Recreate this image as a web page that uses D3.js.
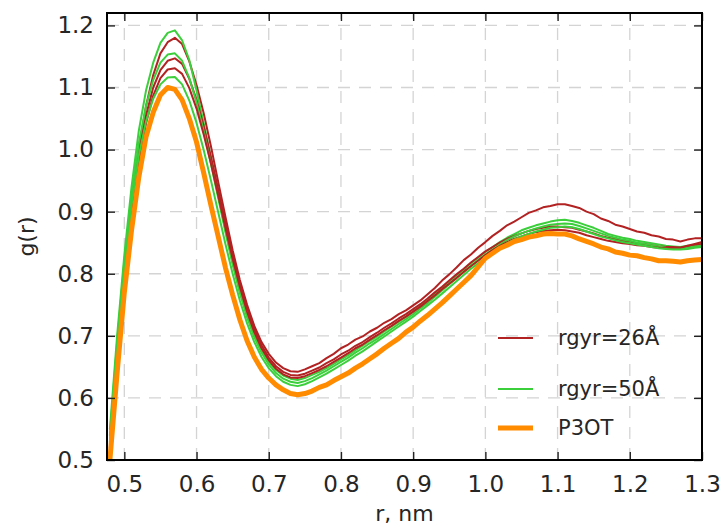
<!DOCTYPE html>
<html><head><meta charset="utf-8">
<script src="https://cdn.jsdelivr.net/npm/d3@7"></script>
<style>
html,body{margin:0;padding:0;background:#fff;}
svg{display:block;font-family:"DejaVu Sans",sans-serif;}
</style></head><body>
<svg id="chart" width="724" height="526"></svg>
<script>
// Pair distance r (nm)
const r = [0.48,0.49,0.50,0.51,0.52,0.53,0.54,0.55,0.56,0.57,0.58,0.59,0.60,0.61,0.62,0.63,0.64,0.65,0.66,0.67,0.68,0.69,
  0.70,0.71,0.72,0.73,0.74,0.75,0.76,0.77,0.78,0.79,0.80,0.81,0.82,0.83,0.84,0.85,0.86,0.87,0.88,0.89,
  0.90,0.91,0.92,0.93,0.94,0.95,0.96,0.97,0.98,0.99,1.00,1.01,1.02,1.03,1.04,1.05,1.06,1.07,1.08,1.09,
  1.10,1.11,1.12,1.13,1.14,1.15,1.16,1.17,1.18,1.19,1.20,1.21,1.22,1.23,1.24,1.25,1.26,1.27,1.28,1.29,1.30];

// g(r), rgyr = 26 Å runs
const rgyr26a = [0.52,0.67,0.80,0.91,1.00,1.07,1.12,1.155,1.173,1.18,1.17,1.142,1.104,1.058,1.005,0.948,0.892,0.838,0.79,0.75,0.716,0.69,
  0.671,0.657,0.648,0.643,0.642,0.646,0.651,0.656,0.664,0.671,0.680,0.686,0.694,0.699,0.707,0.713,0.721,0.727,0.735,0.741,
  0.749,0.757,0.767,0.777,0.789,0.799,0.81,0.822,0.831,0.842,0.851,0.861,0.869,0.878,0.884,0.891,0.898,0.902,0.907,0.909,
  0.912,0.912,0.909,0.906,0.900,0.896,0.889,0.885,0.879,0.876,0.872,0.868,0.866,0.862,0.860,0.856,0.855,0.852,0.855,0.857,0.857];
const rgyr26b = [0.51,0.66,0.79,0.90,0.99,1.055,1.10,1.128,1.143,1.147,1.138,1.114,1.08,1.037,0.988,0.936,0.882,0.831,0.785,0.745,0.711,0.685,
  0.665,0.651,0.642,0.637,0.636,0.639,0.644,0.649,0.656,0.662,0.670,0.676,0.684,0.690,0.698,0.705,0.713,0.720,0.728,0.735,
  0.743,0.751,0.760,0.770,0.779,0.789,0.799,0.808,0.818,0.827,0.836,0.843,0.850,0.856,0.861,0.865,0.869,0.872,0.874,0.876,
  0.876,0.875,0.874,0.871,0.868,0.865,0.861,0.858,0.856,0.853,0.852,0.849,0.848,0.846,0.844,0.843,0.843,0.842,0.844,0.846,0.848];
const rgyr26c = [0.51,0.655,0.785,0.89,0.978,1.042,1.087,1.115,1.129,1.131,1.122,1.099,1.066,1.024,0.977,0.926,0.874,0.824,0.779,0.739,0.706,0.680,
  0.661,0.647,0.638,0.633,0.632,0.635,0.640,0.645,0.651,0.658,0.665,0.672,0.680,0.686,0.694,0.701,0.709,0.716,0.724,0.731,
  0.739,0.747,0.756,0.765,0.775,0.784,0.793,0.803,0.812,0.821,0.830,0.838,0.845,0.851,0.856,0.860,0.864,0.867,0.869,0.870,
  0.871,0.870,0.868,0.866,0.862,0.859,0.856,0.853,0.851,0.849,0.848,0.846,0.845,0.843,0.842,0.841,0.842,0.842,0.845,0.848,0.851];

// g(r), rgyr = 50 Å runs
const rgyr50a = [0.55,0.70,0.83,0.94,1.03,1.095,1.14,1.172,1.188,1.192,1.176,1.144,1.095,1.042,0.985,0.927,0.870,0.818,0.772,0.733,0.700,0.676,
  0.658,0.645,0.636,0.631,0.629,0.632,0.637,0.642,0.648,0.655,0.662,0.669,0.677,0.684,0.692,0.699,0.707,0.715,0.723,0.731,
  0.739,0.748,0.757,0.767,0.777,0.787,0.797,0.807,0.817,0.826,0.835,0.843,0.851,0.858,0.864,0.870,0.874,0.878,0.881,0.884,
  0.886,0.887,0.885,0.882,0.878,0.874,0.869,0.864,0.861,0.858,0.856,0.853,0.851,0.849,0.847,0.845,0.844,0.843,0.845,0.846,0.848];
const rgyr50b = [0.54,0.69,0.82,0.925,1.01,1.07,1.112,1.14,1.153,1.155,1.143,1.115,1.076,1.029,0.977,0.922,0.867,0.815,0.769,0.730,0.698,0.673,
  0.654,0.640,0.631,0.626,0.624,0.627,0.632,0.638,0.644,0.651,0.658,0.665,0.673,0.680,0.688,0.695,0.703,0.711,0.719,0.727,
  0.735,0.744,0.753,0.763,0.773,0.783,0.793,0.803,0.813,0.822,0.831,0.839,0.847,0.854,0.860,0.865,0.869,0.873,0.876,0.879,
  0.880,0.881,0.880,0.877,0.873,0.869,0.865,0.861,0.858,0.855,0.853,0.850,0.848,0.846,0.844,0.842,0.841,0.841,0.842,0.844,0.845];
const rgyr50c = [0.53,0.68,0.805,0.91,0.99,1.045,1.082,1.105,1.116,1.117,1.105,1.079,1.043,0.999,0.950,0.899,0.848,0.800,0.757,0.720,0.690,0.666,
  0.648,0.635,0.626,0.621,0.619,0.622,0.627,0.633,0.639,0.646,0.653,0.660,0.668,0.675,0.683,0.691,0.699,0.707,0.715,0.723,
  0.731,0.740,0.749,0.758,0.768,0.778,0.788,0.798,0.808,0.817,0.826,0.834,0.842,0.849,0.855,0.860,0.864,0.868,0.871,0.874,
  0.875,0.876,0.875,0.872,0.868,0.864,0.860,0.857,0.854,0.851,0.849,0.847,0.845,0.843,0.841,0.840,0.839,0.839,0.840,0.842,0.843];

// g(r), P3OT reference
const p3ot = [0.50,0.64,0.77,0.87,0.955,1.02,1.06,1.088,1.10,1.097,1.08,1.05,1.012,0.962,0.91,0.86,0.81,0.766,0.726,0.692,0.666,0.646,
  0.632,0.621,0.613,0.607,0.605,0.607,0.611,0.617,0.621,0.628,0.634,0.640,0.648,0.655,0.663,0.671,0.680,0.688,0.696,0.706,
  0.714,0.724,0.733,0.743,0.753,0.764,0.775,0.786,0.797,0.811,0.825,0.833,0.841,0.846,0.852,0.855,0.859,0.861,0.864,0.865,
  0.864,0.864,0.861,0.856,0.852,0.848,0.843,0.840,0.835,0.833,0.830,0.829,0.826,0.824,0.821,0.821,0.820,0.819,0.821,0.822,0.823];

const xTicks = [0.5,0.6,0.7,0.8,0.9,1.0,1.1,1.2,1.3];
const yTicks = [0.5,0.6,0.7,0.8,0.9,1.0,1.1,1.2];
const legendLabels = ["rgyr=26\u00C5", "rgyr=50\u00C5", "P3OT"];

const RED = "#b22222", GREEN = "#3ccf3c", ORANGE = "#ff8c00";
const TEXT = "#262626";

const series = [
  {values: rgyr26a, color: RED, width: 2},
  {values: rgyr50a, color: GREEN, width: 2},
  {values: rgyr26b, color: RED, width: 2},
  {values: rgyr50b, color: GREEN, width: 2},
  {values: rgyr26c, color: RED, width: 2},
  {values: rgyr50c, color: GREEN, width: 2},
  {values: p3ot, color: ORANGE, width: 5}
];

const L = 107, R = 702, T = 13, B = 460;
const svg = d3.select("#chart");
const x = d3.scaleLinear().domain([0.476, 1.3]).range([L, R]);
const y = d3.scaleLinear().domain([0.5, 1.22]).range([B, T]);

// dashed grid
const grid = svg.append("g").attr("stroke", "#d4d4d4").attr("stroke-width", 1.3).attr("stroke-dasharray", "12,9");
grid.selectAll("line.v").data(xTicks.filter(d => d < 1.3)).join("line")
  .attr("x1", d => x(d)).attr("x2", d => x(d)).attr("y1", B).attr("y2", T);
grid.selectAll("line.h").data(yTicks.filter(d => d > 0.5)).join("line")
  .attr("y1", d => y(d)).attr("y2", d => y(d)).attr("x1", L).attr("x2", R);

// curves
svg.append("clipPath").attr("id", "plotclip").append("rect")
  .attr("x", L).attr("y", T).attr("width", R - L).attr("height", B - T);
const line = d3.line().x((d, i) => x(r[i])).y(d => y(d));
const curves = svg.append("g").attr("clip-path", "url(#plotclip)");
series.forEach(s => {
  curves.append("path").datum(s.values)
    .attr("d", line).attr("fill", "none")
    .attr("stroke", s.color).attr("stroke-width", s.width)
    .attr("stroke-linejoin", "round").attr("stroke-linecap", "round");
});

// axes with inward ticks on all four sides
const tickLen = 8;
function styleAxis(g) {
  g.select(".domain").remove();
  g.selectAll(".tick line").attr("stroke", "#222").attr("stroke-width", 1.4);
  g.selectAll(".tick text").attr("fill", TEXT).style("font-size", "23px").style("font-family", "DejaVu Sans");
}
svg.append("g").attr("transform", `translate(0,${B})`)
  .call(d3.axisBottom(x).tickValues(xTicks).tickFormat(d3.format(".1f")).tickSize(-tickLen).tickPadding(16))
  .call(styleAxis);
svg.append("g").attr("transform", `translate(${L},0)`)
  .call(d3.axisLeft(y).tickValues(yTicks).tickFormat(d3.format(".1f")).tickSize(-tickLen).tickPadding(13))
  .call(styleAxis);
svg.append("g").attr("transform", `translate(0,${T})`)
  .call(d3.axisTop(x).tickValues(xTicks).tickFormat("").tickSize(-tickLen))
  .call(styleAxis);
svg.append("g").attr("transform", `translate(${R},0)`)
  .call(d3.axisRight(y).tickValues(yTicks).tickFormat("").tickSize(-tickLen))
  .call(styleAxis);

// frame
svg.append("rect").attr("x", L).attr("y", T).attr("width", R - L).attr("height", B - T)
  .attr("fill", "none").attr("stroke", "#000").attr("stroke-width", 2);

// axis titles
svg.append("text").attr("x", (L + R) / 2).attr("y", 521).attr("text-anchor", "middle")
  .attr("fill", TEXT).style("font-size", "22px").text("r, nm");
svg.append("text").attr("transform", `translate(34,${(T + B) / 2}) rotate(-90)`).attr("text-anchor", "middle")
  .attr("fill", TEXT).style("font-size", "22px").text("g(r)");

// legend
const legendItems = [
  {label: legendLabels[0], color: RED, width: 2, y: 338},
  {label: legendLabels[1], color: GREEN, width: 2, y: 389},
  {label: legendLabels[2], color: ORANGE, width: 5, y: 428}
];
const lg = svg.append("g");
legendItems.forEach(it => {
  lg.append("line").attr("x1", 498).attr("x2", 533).attr("y1", it.y).attr("y2", it.y)
    .attr("stroke", it.color).attr("stroke-width", it.width);
  lg.append("text").attr("x", 558).attr("y", it.y).attr("dy", "0.35em")
    .attr("fill", TEXT).style("font-size", "21px").text(it.label);
});
</script>
</body></html>
